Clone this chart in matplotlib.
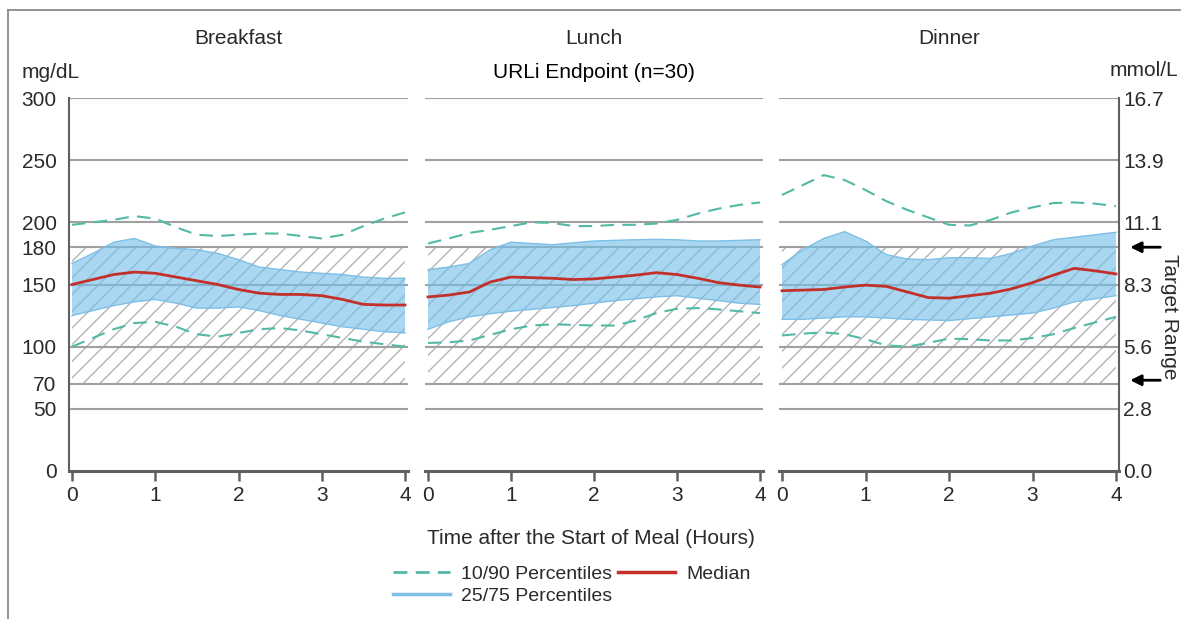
import numpy as np
import matplotlib
matplotlib.use("Agg")
import matplotlib.pyplot as plt
from matplotlib.lines import Line2D

plt.rcParams["font.family"] = ["Liberation Sans", "DejaVu Sans"]
plt.rcParams["hatch.linewidth"] = 1.0

# Time after the start of meal (hours)
hours = [0, 0.25, 0.5, 0.75, 1.0, 1.25, 1.5, 1.75, 2.0, 2.25, 2.5, 2.75, 3.0, 3.25, 3.5, 3.75, 4.0]

meals = ["Breakfast", "Lunch", "Dinner"]

# glucose, mg/dL
breakfast_p10 = [100, 107, 114, 119, 120, 116, 110, 108, 111, 114, 115, 113, 110, 107, 104, 102, 100]
breakfast_p25 = [125, 129, 133, 136, 138, 135, 131, 131, 132, 129, 125, 122, 119, 116, 114, 112, 111]
breakfast_med = [150, 154, 158, 160, 159, 156, 153, 150, 146, 143, 142, 142, 141, 138, 134, 133.5, 133.5]
breakfast_p75 = [167, 175, 184, 187, 181, 179, 178, 175, 170, 164, 162, 160, 159, 158, 156, 155, 155]
breakfast_p90 = [198, 200, 202, 205, 203, 196, 190, 189, 190, 191, 191, 189, 187, 190, 197, 203, 208]

lunch_p10 = [103, 103.5, 105, 109.5, 114, 117, 118, 117.5, 117, 117, 121, 127, 130.5, 131, 130, 128.5, 127]
lunch_p25 = [114, 120, 124, 126.5, 128.5, 130, 131.5, 133, 135, 137, 138.5, 140, 141, 139, 137, 135, 134]
lunch_med = [140, 141.5, 144, 152, 156, 155.5, 155, 154, 154.5, 156, 157.5, 159.5, 158, 155, 151.5, 149.5, 148]
lunch_p75 = [162, 164, 167, 178, 184, 183, 182, 183.5, 185, 185.5, 186, 186.3, 186, 185, 185, 185.5, 186]
lunch_p90 = [183, 187, 191.5, 194, 197, 200, 199.5, 197, 197, 198, 198, 199, 202, 207, 211, 214, 216]

dinner_p10 = [109, 110.5, 111.5, 110, 106, 101, 100, 103, 106.5, 106, 105, 105, 107, 110, 115, 119.5, 124]
dinner_p25 = [122, 122, 123, 124, 124, 123, 122, 121.5, 121, 122.5, 124, 125.5, 127, 131, 136, 138.5, 141]
dinner_med = [145, 145.5, 146, 148, 149.5, 148.5, 144, 139.5, 139, 141, 143, 146.5, 151.5, 157.5, 163, 161, 158.5]
dinner_p75 = [166, 178, 187, 192.5, 185, 174, 170.5, 170, 171.5, 171.5, 171, 175, 181, 186, 188, 190, 192]
dinner_p90 = [222, 230, 238, 234, 226, 217, 210, 204, 198, 197.5, 202, 208, 212, 215.5, 216, 215, 213]

p10 = [breakfast_p10, lunch_p10, dinner_p10]
p25 = [breakfast_p25, lunch_p25, dinner_p25]
med = [breakfast_med, lunch_med, dinner_med]
p75 = [breakfast_p75, lunch_p75, dinner_p75]
p90 = [breakfast_p90, lunch_p90, dinner_p90]

grid_levels = [50, 70, 100, 150, 180, 200, 250, 300]
left_ticks = [0, 50, 70, 100, 150, 180, 200, 250, 300]
right_ticks = [0, 50, 100, 150, 200, 250, 300]
target_low, target_high = 70, 180
x_ticks = [0, 1, 2, 3, 4]

# colours
c_grid = "#a0a0a0"
c_axis = "#606060"
c_text = "#2a2a2a"
c_band = "#74bfeb"
c_band_edge = "#7dbfe6"
c_med = "#c3302a"
c_dash = "#52b9a6"

fs = 15
W, H = 1181, 619
fig = plt.figure(figsize=(W / 100, H / 100), dpi=100)

# pixel positions of t=0 and t=4 for each panel, plot top / bottom
panel_px = [(72, 405), (428, 760), (782, 1116)]
top_px, bot_px = 98, 471
pad = 0.035

axes = []
for i, meal in enumerate(meals):
    p0, p4 = panel_px[i]
    ppx = (p4 - p0) / 4
    left = p0 - pad * ppx
    width = (4 + 2 * pad) * ppx
    ax = fig.add_axes([left / W, 1 - bot_px / H, width / W, (bot_px - top_px) / H])
    ax.set_xlim(-pad, 4 + pad)
    ax.set_ylim(0, 300)

    for g in grid_levels:
        ax.axhline(g, color=c_grid, lw=1.5, zorder=1)

    ax.fill_between([0, 4], target_low, target_high, facecolor="white",
                    edgecolor="#b4b4b4", hatch="//", lw=0, zorder=0.5)

    ax.fill_between(hours, p25[i], p75[i], facecolor=c_band, alpha=0.62, lw=0, zorder=2)
    ax.plot(hours, p75[i], color=c_band_edge, lw=1, zorder=2.1)
    ax.plot(hours, p25[i], color=c_band_edge, lw=1, zorder=2.1)
    ax.plot(hours, p90[i], color=c_dash, lw=1.5, ls=(0, (6.5, 4)), zorder=3)
    ax.plot(hours, p10[i], color=c_dash, lw=1.5, ls=(0, (6.5, 4)), zorder=3)
    ax.plot(hours, med[i], color=c_med, lw=2, zorder=4)

    for s in ["top", "left", "right"]:
        ax.spines[s].set_visible(False)
    ax.spines["bottom"].set_color(c_axis)
    ax.spines["bottom"].set_linewidth(2.2)
    ax.set_xticks(x_ticks)
    ax.set_xticklabels([str(t) for t in x_ticks])
    ax.tick_params(axis="x", direction="out", length=7, width=1.8, color=c_axis,
                   labelsize=fs, labelcolor=c_text, pad=4)
    ax.set_yticks([])
    ax.set_facecolor("none")

    cx = (p0 + p4) / 2 / W
    fig.text(cx, 1 - 38 / H, meal, ha="center", va="center", fontsize=fs, color=c_text)
    axes.append(ax)

# left axis (mg/dL)
axl = axes[0]
axl.spines["left"].set_visible(True)
axl.spines["left"].set_color(c_axis)
axl.spines["left"].set_linewidth(1.5)
axl.set_yticks(left_ticks)
axl.set_yticklabels([str(v) for v in left_ticks])
axl.tick_params(axis="y", length=0, pad=9, labelsize=fs, labelcolor=c_text)

# right axis (mmol/L)
axr = axes[2]
axr.spines["right"].set_visible(True)
axr.spines["right"].set_color(c_axis)
axr.spines["right"].set_linewidth(1.5)
axr.yaxis.tick_right()
axr.set_yticks(right_ticks)
axr.set_yticklabels(["%.1f" % (v / 18.0) for v in right_ticks])
axr.tick_params(axis="y", length=0, pad=3, labelsize=fs, labelcolor=c_text)

# target range arrows
for lvl in [target_high, target_low + 3]:
    axr.annotate("", xy=(1.025, lvl), xycoords=axr.get_yaxis_transform(),
                 xytext=(1.13, lvl), textcoords=axr.get_yaxis_transform(),
                 arrowprops=dict(arrowstyle="-|>", color="black", lw=2, mutation_scale=16),
                 annotation_clip=False)

fig.text(1170 / W, 1 - 317 / H, "Target Range", rotation=-90, ha="center", va="center",
         fontsize=fs, color=c_text)
fig.text(22 / W, 1 - 72 / H, "mg/dL", ha="left", va="center", fontsize=fs, color=c_text)
fig.text(1110 / W, 1 - 71 / H, "mmol/L", ha="left", va="center", fontsize=fs, color=c_text)
fig.text(594 / W, 1 - 72 / H, "URLi Endpoint (n=30)", ha="center", va="center",
         fontsize=fs, color="black")
fig.text(591 / W, 1 - 538 / H, "Time after the Start of Meal (Hours)", ha="center",
         va="center", fontsize=fs, color=c_text)

handles = [
    Line2D([], [], color=c_dash, lw=2, ls=(0, (5, 3))),
    Line2D([], [], color=c_band_edge, lw=2.5),
    Line2D([], [], color=c_med, lw=2.5),
]
labels = ["10/90 Percentiles", "25/75 Percentiles", "Median"]
fig.legend(handles, labels, ncol=2, loc="center", bbox_to_anchor=(572 / W, 1 - 585 / H),
           frameon=False, fontsize=14, handlelength=2.9, handletextpad=0.6,
           columnspacing=0.3, labelspacing=0.2, labelcolor=c_text)

# outer frame (top and left edges)
fig.add_artist(Line2D([7.5 / W, 1], [1 - 9.5 / H, 1 - 9.5 / H], color="#808080", lw=1.2))
fig.add_artist(Line2D([7.5 / W, 7.5 / W], [0, 1 - 9.5 / H], color="#808080", lw=1.2))

fig.savefig("out.png", dpi=100)
